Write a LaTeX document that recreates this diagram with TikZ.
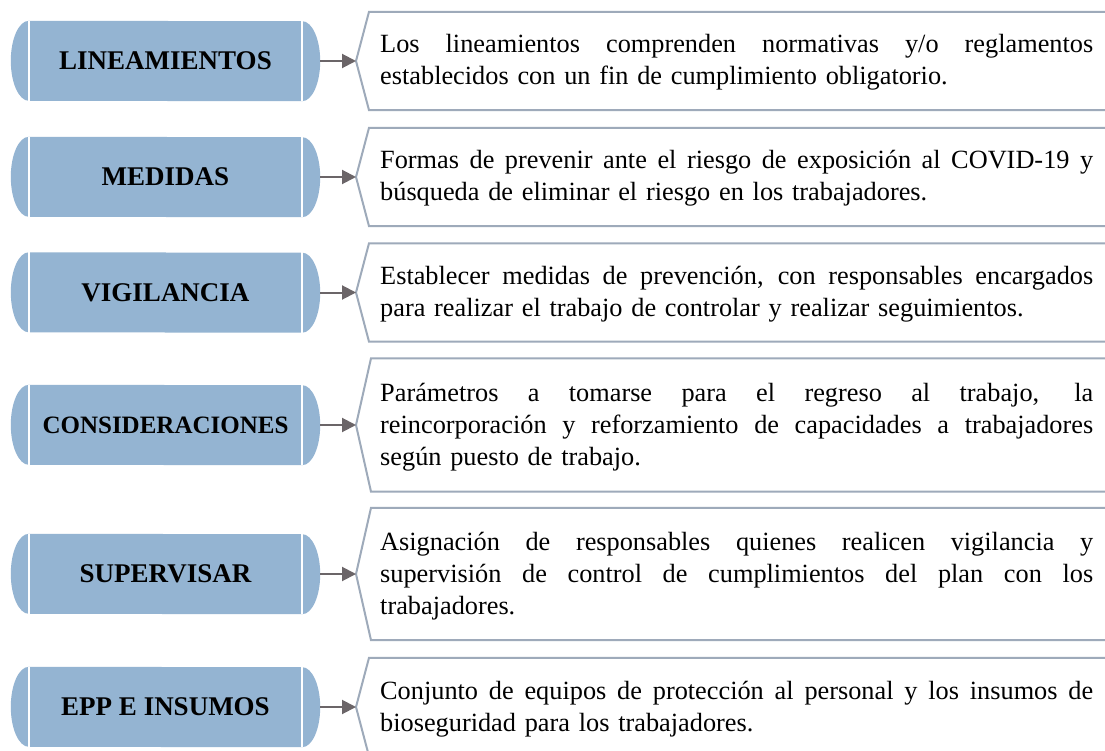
\documentclass[tikz,border=0pt]{standalone}
\usepackage{fontspec}
\setmainfont{Liberation Serif}
\usetikzlibrary{arrows.meta,backgrounds}
\definecolor{boxblue}{RGB}{148,180,210}
\definecolor{edgegray}{RGB}{158,170,186}
\definecolor{arrowgray}{RGB}{107,101,104}
\newcommand{\jline}[1]{\leavevmode\hbox to 713pt{\spaceskip=0.25em plus 1fil\relax #1}}
\begin{document}
\begin{tikzpicture}[x=1pt,y=-1pt,
  lbox/.style={minimum width=309pt, minimum height=80pt, inner sep=0pt,
    font=\bfseries\fontsize{27}{32}\selectfont},
  rbox/.style={anchor=west, inner xsep=24pt, inner ysep=0pt, text width=713pt,
    align=left, text height=22pt, font=\fontsize{26.3}{32}\selectfont},
  two/.style={text depth=38pt, minimum height=98pt},
  three/.style={text depth=70pt, minimum height=132pt},
  conn/.style={draw=arrowgray, line width=2pt, -{Triangle[length=14pt,width=14pt]}},
  edge/.style={draw=edgegray, line width=2pt, line join=miter},
  sep/.style={draw=white, line width=2pt}]
\useasboundingbox (0,0) rectangle (1105,751);

% left nodes
\node[lbox] (L1) at (165.5,61) {LINEAMIENTOS};
\node[lbox] (L2) at (165.5,177) {MEDIDAS};
\node[lbox] (L3) at (165.5,292.5) {VIGILANCIA};
\node[lbox, font=\bfseries\fontsize{25}{30}\selectfont] (L4) at (165.5,425) {CONSIDERACIONES};
\node[lbox] (L5) at (165.5,574) {SUPERVISAR};
\node[lbox] (L6) at (165.5,707) {EPP E INSUMOS};

% right nodes
\node[rbox,two] (R1) at (356,61) {\jline{Los lineamientos comprenden normativas y/o reglamentos}\\establecidos con un fin de cumplimiento obligatorio.};
\node[rbox,two] (R2) at (356,177) {\jline{Formas de prevenir ante el riesgo de exposición al COVID-19 y}\\búsqueda de eliminar el riesgo en los trabajadores.};
\node[rbox,two] (R3) at (356,292.5) {\jline{Establecer medidas de prevención, con responsables encargados}\\para realizar el trabajo de controlar y realizar seguimientos.};
\node[rbox,three,minimum height=133pt] (R4) at (356,425) {\jline{Parámetros a tomarse para el regreso al trabajo, la}\\\jline{reincorporación y reforzamiento de capacidades a trabajadores}\\según puesto de trabajo.};
\node[rbox,three] (R5) at (356,574) {\jline{Asignación de responsables quienes realicen vigilancia y}\\\jline{supervisión de control de cumplimientos del plan con los}\\trabajadores.};
\node[rbox,two] (R6) at (356,707) {\jline{Conjunto de equipos de protección al personal y los insumos de}\\bioseguridad para los trabajadores.};

% chevron outlines
\foreach \n/\d in {R1/13,R2/13,R3/13,R4/15,R5/15,R6/13}{
  \draw[edge] (\n.north east) -- ([xshift=\d pt]\n.north west) -- (\n.west)
    -- ([xshift=\d pt]\n.south west) -- (\n.south east);
}

% connectors
\foreach \i in {1,...,6}{
  \draw[conn] (L\i.east) -- (R\i.west);
}

\begin{scope}[on background layer]
  \fill[white] (0,0) rectangle (1105,751);
  \foreach \i in {1,...,6}{
    \fill[boxblue] ([xshift=18pt]L\i.north west)
      arc[start angle=90,end angle=270,x radius=18pt,y radius=40pt]
      -- ([xshift=-18pt]L\i.south east)
      arc[start angle=-90,end angle=90,x radius=18pt,y radius=40pt] -- cycle;
    \draw[sep] ([xshift=18pt]L\i.north west) -- ([xshift=18pt]L\i.south west);
    \draw[sep] ([xshift=-18pt]L\i.north east) -- ([xshift=-18pt]L\i.south east);
  }
\end{scope}
\end{tikzpicture}
\end{document}
